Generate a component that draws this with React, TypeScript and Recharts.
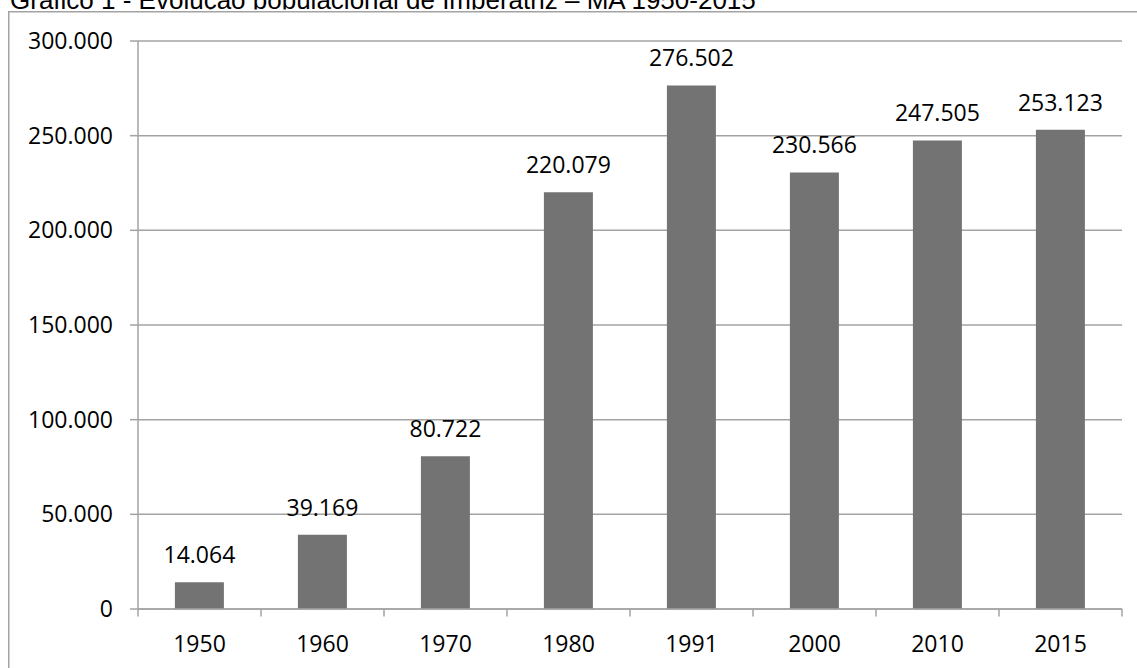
import React from 'react';
import { BarChart, Bar, XAxis, YAxis, CartesianGrid, LabelList } from 'recharts';

const title = 'Gráfico 1 - Evolução populacional de Imperatriz – MA 1950-2015';
const years = ['1950', '1960', '1970', '1980', '1991', '2000', '2010', '2015'];
const population = [14064, 39169, 80722, 220079, 276502, 230566, 247505, 253123];
const yTicks = [0, 50000, 100000, 150000, 200000, 250000, 300000];

const data = years.map((year, i) => ({ year, value: population[i] }));

const fmt = (v: number) => String(v).replace(/\B(?=(\d{3})+(?!\d))/g, '.');

const W = 1137;
const H = 668;
const MARGIN = { top: 41, right: 15, left: 0, bottom: 0 };
const Y_AXIS_W = 138;
const PLOT_W = W - MARGIN.left - MARGIN.right - Y_AXIS_W;
const X_TICK_MARGIN = 27;
const FONT = "'Open Sans', sans-serif";
const GRID = '#a3a3a3';

const YearTick = (props: any) => {
  const { x, y, payload, index } = props;
  const band = PLOT_W / years.length;
  const axisY = y - X_TICK_MARGIN;
  const lx = x - band / 2;
  const rx = x + band / 2;
  return (
    <g>
      <line x1={lx} y1={axisY} x2={lx} y2={axisY + 7.5} stroke={GRID} strokeWidth={1.5} />
      {index === years.length - 1 && (
        <line x1={rx} y1={axisY} x2={rx} y2={axisY + 7.5} stroke={GRID} strokeWidth={1.5} />
      )}
      <text x={x} y={y} dy="0.71em" textAnchor="middle" fontFamily={FONT} fontSize={23} fill="#000">
        {payload.value}
      </text>
    </g>
  );
};

export default function App() {
  return (
    <div style={{ position: 'absolute', left: 0, top: 0, width: W, height: H, overflow: 'hidden', background: '#fff' }}>
      <svg width={W} height={H} style={{ position: 'absolute', left: 0, top: 0 }}>
        <text x={10} y={8.5} fontFamily="'Liberation Sans', Arial, sans-serif" fontSize={26} fill="#000">
          {title}
        </text>
        <rect x={8} y={9.5} width={2000} height={2000} fill="#fff" />
        <line x1={8.75} y1={11} x2={8.75} y2={H} stroke={GRID} strokeWidth={1.5} />
        <line x1={8} y1={11.75} x2={W} y2={11.75} stroke={GRID} strokeWidth={1.5} />
      </svg>
      <div style={{ position: 'absolute', left: 0, top: 0 }}>
        <BarChart width={W} height={H} data={data} margin={MARGIN} barCategoryGap="30%">
          <CartesianGrid vertical={false} stroke={GRID} strokeWidth={1.5} />
          <XAxis
            dataKey="year"
            height={59}
            tickLine={false}
            tickSize={0}
            tickMargin={X_TICK_MARGIN}
            axisLine={{ stroke: GRID, strokeWidth: 1.5 }}
            tick={YearTick}
            interval={0}
          />
          <YAxis
            width={Y_AXIS_W}
            domain={[0, 300000]}
            ticks={yTicks}
            tickFormatter={fmt}
            tickSize={8}
            tickMargin={17}
            axisLine={{ stroke: GRID, strokeWidth: 1.5 }}
            tickLine={{ stroke: GRID, strokeWidth: 1.5 }}
            tick={{ fontFamily: FONT, fontSize: 23, fill: '#000' }}
            interval={0}
          />
          <Bar dataKey="value" fill="#737373" isAnimationActive={false}>
            <LabelList
              dataKey="value"
              position="top"
              offset={19}
              formatter={(v: any) => fmt(Number(v))}
              style={{ fontFamily: FONT, fontSize: 23, fill: '#000' }}
            />
          </Bar>
        </BarChart>
      </div>
    </div>
  );
}
